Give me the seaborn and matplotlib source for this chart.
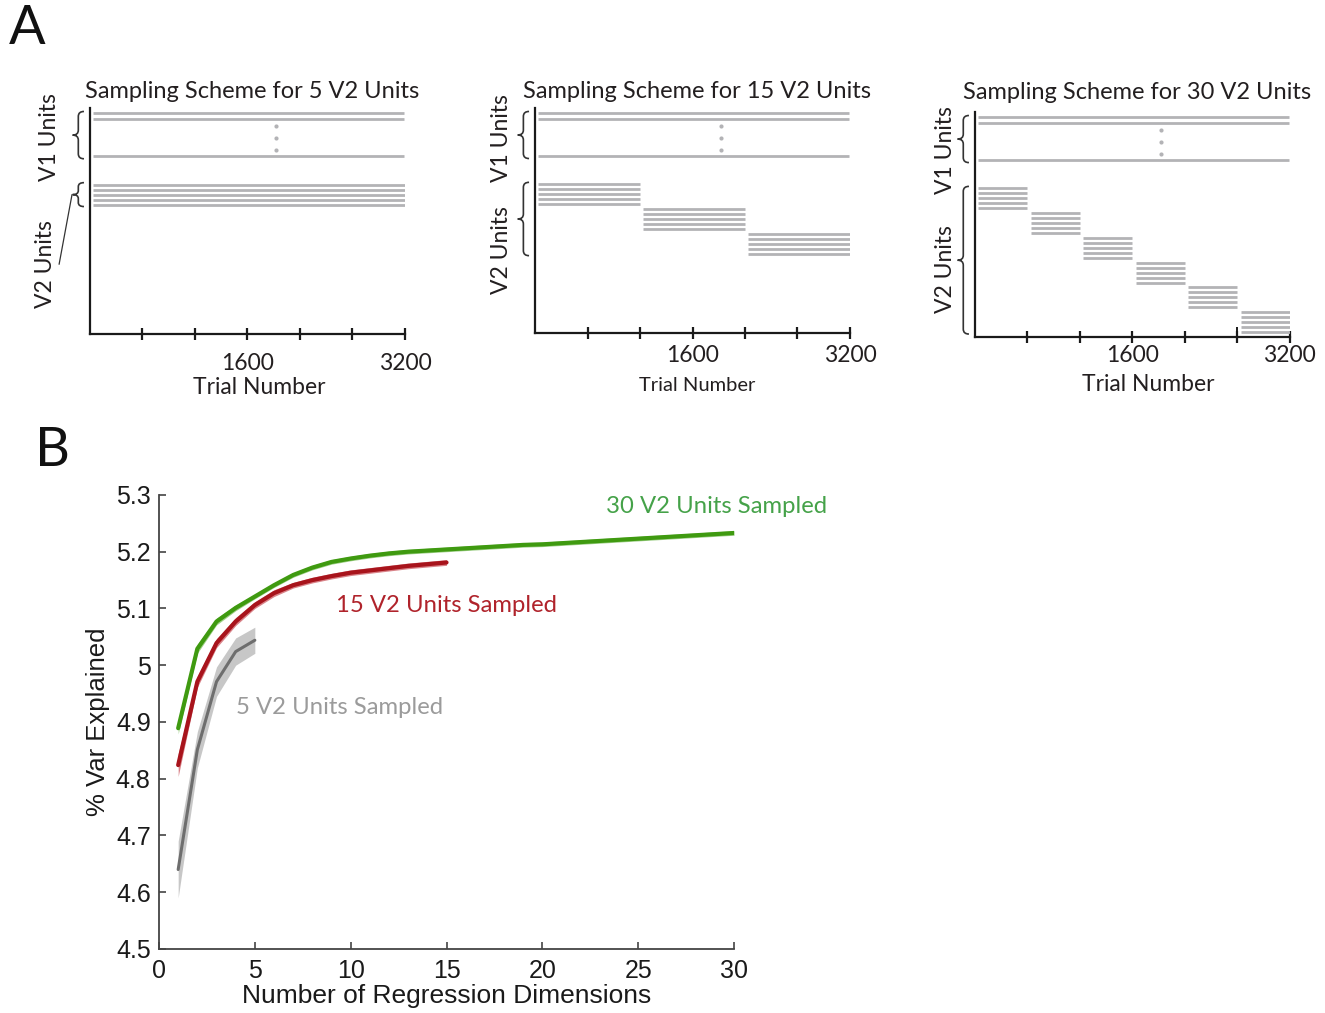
import numpy as np
import pandas as pd
import matplotlib.pyplot as plt
import matplotlib.transforms as mtransforms
from matplotlib.path import Path
from matplotlib.patches import PathPatch
import seaborn as sns

# --------------------------------------------------------------------------
# panel A : sampling schemes
# --------------------------------------------------------------------------
N_TRIALS = 3200
N_V2_SAMPLED = [5, 15, 30]
UNITS_PER_BLOCK = 5
V1_ROWS = [1.0, 2.2, 9.6]          # first two + last V1 unit (rows)
DOT_ROWS = [3.6, 6.0, 8.4]         # the "..." between them
DOT_TRIAL = 1890
V2_FIRST_ROW = 15.4
BLOCK_STEP = 5.0
XTICKS_A = np.arange(1, 7) * N_TRIALS / 6
XTICK_LABELS_A = ['', '', '1600', '', '', '3200']
TITLES_A = ['Sampling Scheme for %d V2 Units' % n for n in N_V2_SAMPLED]

# --------------------------------------------------------------------------
# panel B : % variance explained
# --------------------------------------------------------------------------
dims_5 = np.arange(1, 6)
var_5 = [4.640, 4.851, 4.971, 5.024, 5.044]
sem_5 = [0.050, 0.032, 0.026, 0.024, 0.023]

dims_15 = np.arange(1, 16)
var_15 = [4.824, 4.971, 5.039, 5.077, 5.106, 5.127, 5.141, 5.150, 5.157,
          5.163, 5.167, 5.171, 5.175, 5.178, 5.181]
sem_15 = [0.020, 0.010, 0.008, 0.007, 0.006, 0.006, 0.005, 0.005, 0.005,
          0.005, 0.005, 0.005, 0.005, 0.005, 0.005]

dims_30 = np.arange(1, 31)
var_30 = [4.889, 5.029, 5.077, 5.101, 5.121, 5.141, 5.159, 5.172, 5.182,
          5.188, 5.193, 5.197, 5.200, 5.202, 5.204, 5.206, 5.208, 5.210,
          5.212, 5.213, 5.215, 5.217, 5.219, 5.221, 5.223, 5.225, 5.227,
          5.229, 5.231, 5.233]
sem_30 = [0.010, 0.008, 0.006, 0.005] + [0.004] * 26

GROUPS = ['5 V2 Units Sampled', '15 V2 Units Sampled', '30 V2 Units Sampled']
LINE_COLORS = ['#6e6e6e', '#a8141c', '#3f9a10']
BAND_COLORS = ['#9a9a9a', '#c0303a', '#5fb03a']
TEXT_COLORS = ['#9b9b9b', '#b0232b', '#45a249']

TXT = '#231f20'
LINE_GRAY = '#b3b3b6'

sns.set_theme(style='white')
plt.rcParams['font.family'] = ['Lato', 'DejaVu Sans']
plt.rcParams['text.color'] = TXT

fig = plt.figure(figsize=(13.25, 10.13), dpi=100)


def draw_brace(ax, y0, y1, x_right=-0.019, width=0.036, r=1.0):
    """left-pointing curly brace, x in axes units, y in data rows"""
    trans = mtransforms.blended_transform_factory(ax.transAxes, ax.transData)
    xr, xm, xl = x_right, x_right - width / 2, x_right - width
    mid = (y0 + y1) / 2
    r = min(r, (y1 - y0) / 5)
    verts = [(xr, y0), (xm, y0), (xm, y0 + r),
             (xm, mid - r), (xm, mid), (xl, mid),
             (xm, mid), (xm, mid + r),
             (xm, y1 - r), (xm, y1), (xr, y1)]
    codes = [Path.MOVETO, Path.CURVE3, Path.CURVE3,
             Path.LINETO, Path.CURVE3, Path.CURVE3,
             Path.CURVE3, Path.CURVE3,
             Path.LINETO, Path.CURVE3, Path.CURVE3]
    ax.add_patch(PathPatch(Path(verts, codes), transform=trans, fill=False,
                           edgecolor='#333333', lw=1.2, clip_on=False))
    return xl, mid


axes_a = [fig.add_axes([0.0679, 0.6703, 0.2377, 0.2231]),
          fig.add_axes([0.4038, 0.6713, 0.2377, 0.2221]),
          fig.add_axes([0.7358, 0.6673, 0.2377, 0.2221])]
label_x = [-0.128, -0.108, -0.093]
v1_label_rows = [5.8, 6.0, 7.6]
v2_label_rows = [31.4, 28.7, 31.6]
tick_pad = [9, 4, 1]
xlabel_pad = [2, 8, 6]
xlabel_size = [16.5, 14.5, 16.5]
xlabel_x = [0.537, 0.514, 0.549]
title_y = [1.075, 1.075, 1.088]

for i, (ax, n_v2) in enumerate(zip(axes_a, N_V2_SAMPLED)):
    n_blocks = n_v2 // UNITS_PER_BLOCK
    block_len = N_TRIALS / n_blocks
    # V1 units: recorded on every trial
    ax.hlines(V1_ROWS, 35, N_TRIALS - 10, color=LINE_GRAY, lw=2.0)
    ax.scatter([DOT_TRIAL] * len(DOT_ROWS), DOT_ROWS, s=9, color=LINE_GRAY,
               linewidths=0, zorder=3)
    # V2 units: blocks of 5 units, each sampled on a slice of trials
    for b in range(n_blocks):
        rows = V2_FIRST_ROW + b * BLOCK_STEP + np.arange(UNITS_PER_BLOCK)
        ax.hlines(rows, b * block_len + 35, (b + 1) * block_len - 2,
                  color=LINE_GRAY, lw=2.0)

    ax.set_xlim(0, N_TRIALS)
    ax.set_ylim(45.4, 0)
    ax.set_xticks(XTICKS_A)
    ax.set_xticklabels(XTICK_LABELS_A)
    ax.set_yticks([])
    sns.despine(ax=ax)
    for s in ['left', 'bottom']:
        ax.spines[s].set_color('#1a1a1a')
        ax.spines[s].set_linewidth(1.6)
    ax.tick_params(axis='x', direction='inout', length=9, width=1.6,
                   color='#1a1a1a', labelsize=16.5, pad=tick_pad[i],
                   labelcolor=TXT, bottom=True)
    ax.set_xlabel('Trial Number', fontsize=xlabel_size[i],
                  labelpad=xlabel_pad[i], color=TXT)
    ax.xaxis.label.set_x(xlabel_x[i])
    ax.text(0.515, title_y[i], TITLES_A[i], transform=ax.transAxes,
            ha='center', va='center', fontsize=17, color=TXT)

    # braces + row labels
    v1_top, v1_bot = V1_ROWS[0] - 0.3, V1_ROWS[-1] + 0.6
    v2_top = V2_FIRST_ROW - 0.4
    v2_bot = V2_FIRST_ROW + (n_blocks - 1) * BLOCK_STEP + UNITS_PER_BLOCK - 1 + 0.4
    draw_brace(ax, v1_top, v1_bot)
    trans = mtransforms.blended_transform_factory(ax.transAxes, ax.transData)
    if n_blocks == 1:
        xl, mid = draw_brace(ax, v2_top, v2_bot, r=0.8)
        ax.plot([xl - 0.002, -0.098], [mid, v2_label_rows[i]], color='#333333',
                lw=0.9, transform=trans, clip_on=False)
    else:
        draw_brace(ax, v2_top, v2_bot)
    ax.text(label_x[i], v1_label_rows[i], 'V1 Units', transform=trans,
            rotation=90, ha='center', va='center', fontsize=16.5)
    ax.text(label_x[i] - (0.014 if i == 0 else 0), v2_label_rows[i], 'V2 Units',
            transform=trans, rotation=90, ha='center', va='center', fontsize=16.5)

# little stray tick in the 30 unit scheme
axes_a[2].vlines(N_TRIALS * 5 / 6, 43.4, 45.0, color='#1a1a1a', lw=1.4)

# --------------------------------------------------------------------------
# panel B
# --------------------------------------------------------------------------
df = pd.concat([
    pd.DataFrame({'dims': d, 'var': v, 'sem': e, 'group': g})
    for d, v, e, g in zip([dims_5, dims_15, dims_30], [var_5, var_15, var_30],
                          [sem_5, sem_15, sem_30], GROUPS)
], ignore_index=True)

axb = fig.add_axes([0.12, 0.0632, 0.434, 0.4482])
for g, bc in zip(GROUPS, BAND_COLORS):
    sub = df[df['group'] == g]
    axb.fill_between(sub['dims'], sub['var'] - sub['sem'], sub['var'] + sub['sem'],
                     color=bc, alpha=0.55 if g.startswith('5 ') else 0.6,
                     linewidth=0)
sns.lineplot(data=df, x='dims', y='var', hue='group', hue_order=GROUPS,
             palette=dict(zip(GROUPS, LINE_COLORS)), legend=False, ax=axb,
             linewidth=3.0)
axb.lines[0].set_linewidth(2.2)

label_pos = [(9.44, 4.926), (15.02, 5.106), (29.1, 5.279)]
for g, tc, (lx, ly) in zip(GROUPS, TEXT_COLORS, label_pos):
    axb.text(lx, ly, g, color=tc, fontsize=17.2, ha='center', va='center')

axb.set_xlim(0, 30)
axb.set_ylim(4.5, 5.3)
axb.set_xticks(np.arange(0, 31, 5))
axb.set_yticks(np.round(np.arange(4.5, 5.31, 0.1), 1))
axb.set_yticklabels(['%g' % t for t in np.round(np.arange(4.5, 5.31, 0.1), 1)])
sns.despine(ax=axb)
for s in ['left', 'bottom']:
    axb.spines[s].set_color('#444444')
    axb.spines[s].set_linewidth(1.3)
axb.tick_params(direction='in', length=5, width=1.2, color='#444444',
                labelsize=18, left=True, bottom=True, labelcolor='#1a1a1a')
for lab in axb.get_xticklabels() + axb.get_yticklabels():
    lab.set_family(['Liberation Sans', 'DejaVu Sans'])
axb.tick_params(axis='y', pad=6)
axb.tick_params(axis='x', pad=7)
axb.set_xlabel('Number of Regression Dimensions', fontsize=19,
               family=['Liberation Sans', 'DejaVu Sans'], labelpad=1, color='#1a1a1a')
axb.set_ylabel('% Var Explained', fontsize=18.5,
               family=['Liberation Sans', 'DejaVu Sans'], labelpad=4, color='#1a1a1a')

fig.text(0.0204, 0.972, 'A', fontsize=39, ha='center', va='center', color='#111111')
fig.text(0.0393, 0.555, 'B', fontsize=39, ha='center', va='center', color='#111111')

fig.savefig('out.png', dpi=100)
